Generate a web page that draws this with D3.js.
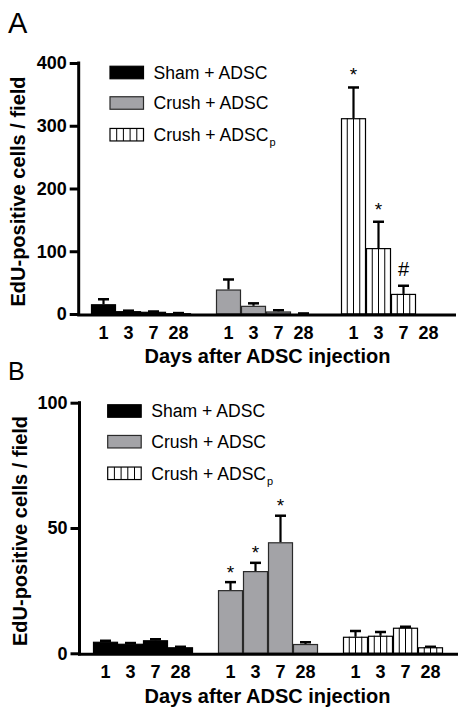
<!DOCTYPE html>
<html>
<head>
<meta charset="utf-8">
<script src="https://cdn.jsdelivr.net/npm/d3@7"></script>
<style>
  html, body { margin: 0; padding: 0; background: #fff; }
  svg { display: block; font-family: "Liberation Sans", Arial, sans-serif; }
</style>
</head>
<body>
<svg id="chart" width="468" height="716"></svg>
<script>
// ---------- DATA ----------
const groups = ["Sham + ADSC", "Crush + ADSC", "Crush + ADSCp"];
const days = ["1", "3", "7", "28"];

// Panel A
const A_sham = [15.5, 4.5, 3.5, 1.2];
const A_shamErr = [8, 0.8, 0.5, 0.3];
const A_crush = [39, 13, 4, 0.6];
const A_crushErr = [16, 4, 2, 0.3];
const A_adscp = [312, 105, 32, 0];
const A_adscpErr = [49, 42, 13, 0];
const A_ticks = [0, 100, 200, 300, 400];
const A_marks = [{g: 2, d: 0, t: "*"}, {g: 2, d: 1, t: "*"}, {g: 2, d: 2, t: "#"}];

// Panel B
const B_sham = [4.6, 3.8, 5.2, 2.4];
const B_shamErr = [0.4, 0.3, 0.4, 0.2];
const B_crush = [25.2, 32.8, 44.3, 3.7];
const B_crushErr = [3.2, 3.3, 10.6, 0.7];
const B_adscp = [6.6, 7.0, 10.2, 2.4];
const B_adscpErr = [2.3, 1.5, 0.4, 0.2];
const B_ticks = [0, 50, 100];
const B_marks = [{g: 1, d: 0, t: "*"}, {g: 1, d: 1, t: "*"}, {g: 1, d: 2, t: "*"}];

const xTitle = "Days after ADSC injection";
const yTitle = "EdU-positive cells / field";

// ---------- DRAW ----------
const svg = d3.select("#chart");
const GRAY = "#a3a3a7";

function panel(cfg) {
  const g = svg.append("g");
  const y = d3.scaleLinear().domain([0, cfg.ymax]).range([cfg.y0, cfg.ytop]);
  const x0 = d3.scaleBand().domain(d3.range(groups.length)).range([cfg.barStart, cfg.barStart + 375]);
  const x1 = d3.scaleBand().domain(days).range([0, 100]);

  const series = [
    {vals: cfg.sham, errs: cfg.shamErr, fill: "#000", stroke: "#000", stripes: false},
    {vals: cfg.crush, errs: cfg.crushErr, fill: GRAY, stroke: "#2a2a2a", stripes: false},
    {vals: cfg.adscp, errs: cfg.adscpErr, fill: "#fff", stroke: "#000", stripes: true}
  ];

  const bars = [];
  series.forEach((s, gi) => {
    days.forEach((d, di) => {
      bars.push({gi, di, d, v: s.vals[di], e: s.errs[di], s});
    });
  });

  const bw = x1.bandwidth();
  // error bars
  bars.forEach(b => {
    if (b.e <= 0) return;
    const cx = x0(b.gi) + x1(b.d) + bw / 2;
    g.append("line").attr("x1", cx).attr("x2", cx)
      .attr("y1", y(b.v)).attr("y2", y(b.v + b.e))
      .attr("stroke", "#000").attr("stroke-width", 2.2);
    g.append("line").attr("x1", cx - 5.5).attr("x2", cx + 5.5)
      .attr("y1", y(b.v + b.e)).attr("y2", y(b.v + b.e))
      .attr("stroke", "#000").attr("stroke-width", 2.5);
  });

  bars.forEach(b => {
    const bx = x0(b.gi) + x1(b.d);
    const top = y(b.v);
    const h = cfg.y0 - top;
    if (h <= 0) return;
    g.append("rect").attr("x", bx + 0.5).attr("y", top + 0.5)
      .attr("width", bw - 1).attr("height", Math.max(0, h - 0.5))
      .attr("fill", b.s.fill).attr("stroke", b.s.stroke).attr("stroke-width", 1.2);
    if (b.s.stripes) {
      [1, 2, 3].forEach(k => {
        const sx = bx + k * bw / 4;
        g.append("line").attr("x1", sx).attr("x2", sx)
          .attr("y1", top).attr("y2", cfg.y0)
          .attr("stroke", "#000").attr("stroke-width", 1);
      });
    }
  });

  // annotations
  cfg.marks.forEach(m => {
    const cx = x0(m.g) + x1(days[m.d]) + bw / 2;
    const vals = series[m.g].vals[m.d] + series[m.g].errs[m.d];
    const cy = y(vals) - cfg.markGap;
    g.append("text").attr("x", cx).attr("y", m.t === "*" ? cy + 11 : cy + 7)
      .attr("text-anchor", "middle").attr("font-size", m.t === "*" ? 19 : 20)
      .attr("fill", "#000").text(m.t);
  });

  // y axis
  const ax = d3.axisLeft(y).tickValues(cfg.ticks).tickSize(9).tickSizeOuter(0).tickPadding(3);
  const axg = g.append("g").attr("transform", `translate(${cfg.axisX},0)`).call(ax);
  axg.select(".domain").attr("stroke-width", 3).attr("stroke", "#000")
    .attr("d", `M0,${cfg.y0 + 2}V${cfg.ytop - 1.5}`);
  axg.selectAll(".tick line").attr("stroke-width", 3).attr("stroke", "#000");
  axg.selectAll(".tick text").attr("font-size", 18).attr("font-weight", "bold")
    .attr("fill", "#000").attr("font-family", "Liberation Sans, Arial, sans-serif");

  // x axis line
  g.append("line").attr("x1", cfg.axisX - 1.5).attr("x2", cfg.xEnd)
    .attr("y1", cfg.y0 + 1).attr("y2", cfg.y0 + 1)
    .attr("stroke", "#000").attr("stroke-width", 3);

  // x tick labels
  groups.forEach((gr, gi) => {
    days.forEach(d => {
      g.append("text").attr("x", x0(gi) + x1(d) + bw / 2).attr("y", cfg.y0 + 25)
        .attr("text-anchor", "middle").attr("font-size", 18).attr("font-weight", "bold")
        .text(d);
    });
  });

  // x title
  g.append("text").attr("x", cfg.xTitleX).attr("y", cfg.xTitleY)
    .attr("text-anchor", "middle").attr("font-size", 20).attr("font-weight", "bold")
    .text(xTitle);

  // y title
  g.append("text").attr("transform", `translate(${cfg.yTitleX},${cfg.yTitleY}) rotate(-90)`)
    .attr("text-anchor", "middle").attr("font-size", 20).attr("font-weight", "bold")
    .text(yTitle);

  // panel letter
  g.append("text").attr("x", 8).attr("y", cfg.letterY).attr("font-size", cfg.letterSize)
    .text(cfg.letter);

  // legend
  const lg = g.append("g");
  series.forEach((s, i) => {
    const cy = cfg.legY[i];
    const bx = cfg.legX, bwid = 33.5, bh = 12.5;
    lg.append("rect").attr("x", bx).attr("y", cy - bh / 2).attr("width", bwid).attr("height", bh)
      .attr("fill", s.fill).attr("stroke", s.stroke).attr("stroke-width", 1.2);
    if (s.stripes) {
      [1, 2, 3, 4].forEach(k => {
        const sx = bx + k * bwid / 5;
        lg.append("line").attr("x1", sx).attr("x2", sx).attr("y1", cy - bh / 2).attr("y2", cy + bh / 2)
          .attr("stroke", "#000").attr("stroke-width", 1);
      });
    }
    const t = lg.append("text").attr("x", cfg.legX + 43.5).attr("y", cy + 6.2).attr("font-size", 17.6);
    if (i === 2) {
      t.append("tspan").text("Crush + ADSC");
      t.append("tspan").attr("font-size", 11).attr("dy", 5).attr("dx", 1).text("p");
    } else {
      t.text(groups[i]);
    }
  });
}

panel({
  letter: "A", letterY: 33, letterSize: 29,
  ymax: 400, y0: 314, ytop: 63, axisX: 78.7, xEnd: 456, barStart: 91,
  sham: A_sham, shamErr: A_shamErr, crush: A_crush, crushErr: A_crushErr,
  adscp: A_adscp, adscpErr: A_adscpErr, ticks: A_ticks, marks: A_marks, markGap: 17,
  xTitleX: 267.5, xTitleY: 363, yTitleX: 24.5, yTitleY: 191.5,
  legX: 110, legY: [72.5, 103, 134.7]
});

panel({
  letter: "B", letterY: 379.5, letterSize: 25,
  ymax: 100, y0: 653.3, ytop: 402.7, axisX: 79.5, xEnd: 458, barStart: 93,
  sham: B_sham, shamErr: B_shamErr, crush: B_crush, crushErr: B_crushErr,
  adscp: B_adscp, adscpErr: B_adscpErr, ticks: B_ticks, marks: B_marks, markGap: 14.5,
  xTitleX: 267.5, xTitleY: 703, yTitleX: 26.5, yTitleY: 531,
  legX: 107.7, legY: [411, 441.7, 473.3]
});
</script>
</body>
</html>
